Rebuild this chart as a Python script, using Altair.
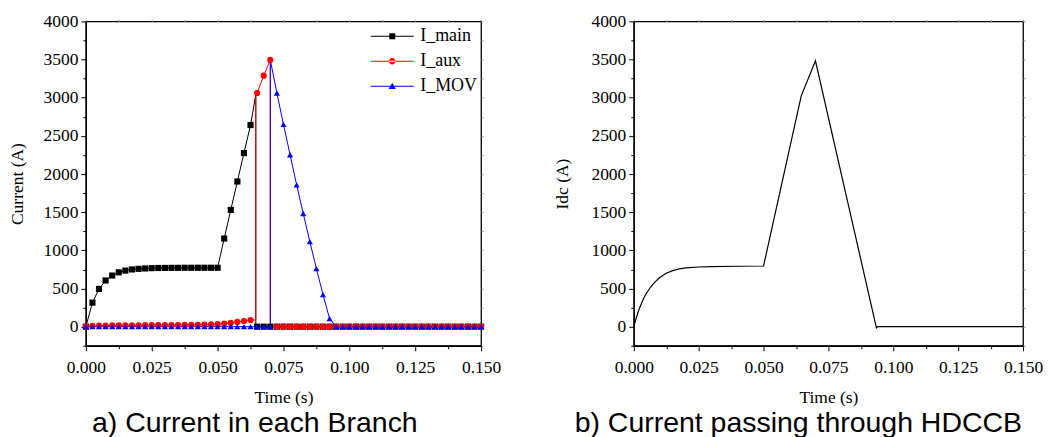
import altair as alt
import pandas as pd

# ---------------- data ----------------
SERIES = ["I_main", "I_aux", "I_MOV"]
COLORS = ["#000000", "#ff0000", "#0000ff"]

# sample grid of the simulation output (s)
T_GRID = [round(k * 0.0025, 4) for k in range(61)]

# I_main, samples k = 0..25 (t = 0 .. 0.0625), zero afterwards
MAIN_VALS = [0, 315, 495, 605, 670, 712, 735, 750, 758, 763, 767, 769, 770, 771, 771,
             772, 772, 772, 772, 772, 772, 1155, 1530, 1902, 2275, 2642]
MAIN_JUMP = [(0.0645, 3040), (0.0645, 0)]

# I_aux, samples k = 0..25, then peak k = 26..28, zero afterwards
AUX_VALS = [0, 10, 14, 16, 17, 18, 18, 19, 19, 20, 20, 21, 21, 22, 22, 23, 24, 25, 27,
            30, 33, 40, 49, 62, 75, 88]
AUX_JUMP = [(0.0645, 88), (0.0645, 3040)]
AUX_PEAK = [3062, 3289, 3495]
AUX_DROP = [(0.07, 0)]

# I_MOV, zero up to k = 28, jump, then samples k = 29..38
MOV_JUMP = [(0.07, 3495)]
MOV_VALS = [3062, 2650, 2253, 1859, 1483, 1115, 761, 420, 105, 0]

# Idc through the breaker (right panel)
IDC_T = [0, 0.001, 0.002, 0.003, 0.004, 0.005, 0.0065, 0.008, 0.01, 0.0125, 0.015,
         0.0175, 0.02, 0.025, 0.03, 0.04, 0.05, 0.0645, 0.07, 0.0935, 0.094, 0.15]
IDC_V = [0, 120, 225, 310, 385, 445, 520, 580, 645, 700, 735, 757, 770, 782, 788,
         792, 795, 3021, 3484, -15, 0, 0]

X_TICKS = [round(k * 0.0125, 4) for k in range(13)]
Y_TICKS = list(range(-250, 4001, 250))

# ---------------- build long table ----------------
rows = []


def add(series, t, v, marker):
    rows.append({"series": series, "t": t, "I": v, "marker": marker, "idx": len(rows)})


for k, v in enumerate(MAIN_VALS):
    add("I_main", T_GRID[k], v, True)
for t, v in MAIN_JUMP:
    add("I_main", t, v, False)
for k in range(26, 61):
    add("I_main", T_GRID[k], 0, True)

for k, v in enumerate(AUX_VALS):
    add("I_aux", T_GRID[k], v, True)
for t, v in AUX_JUMP:
    add("I_aux", t, v, False)
for i, v in enumerate(AUX_PEAK):
    add("I_aux", T_GRID[26 + i], v, True)
for t, v in AUX_DROP:
    add("I_aux", t, v, False)
for k in range(29, 61):
    add("I_aux", T_GRID[k], 0, True)

for k in range(0, 29):
    add("I_MOV", T_GRID[k], 0, True)
for t, v in MOV_JUMP:
    add("I_MOV", t, v, False)
for i, v in enumerate(MOV_VALS):
    add("I_MOV", T_GRID[29 + i], v, True)
for k in range(39, 61):
    add("I_MOV", T_GRID[k], 0, True)

df = pd.DataFrame(rows)
df2 = pd.DataFrame({"t": IDC_T, "I": IDC_V})

# ---------------- styling helpers ----------------
SERIF = "Liberation Serif"
SANS = "Liberation Sans"
FS = 17.5

X_MAJOR = "round(datum.value*1000) % 25 == 0"
Y_MAJOR = "datum.value % 500 == 0"


def x_axis():
    return alt.Axis(values=X_TICKS, title="Time (s)",
                    labelExpr=f"{X_MAJOR} ? format(datum.value, '.3f') : ''",
                    tickSize={"condition": {"test": X_MAJOR, "value": 5}, "value": 3},
                    labelPadding=8, titlePadding=12, grid=False, labelFlush=False,
                    labelOverlap=False)


def y_axis(title, tpad):
    return alt.Axis(values=Y_TICKS, title=title,
                    labelExpr=f"{Y_MAJOR} ? format(datum.value, 'd') : ''",
                    tickSize={"condition": {"test": Y_MAJOR, "value": 5}, "value": 3},
                    labelPadding=3, titlePadding=tpad, grid=False, labelFlush=False,
                    labelOverlap=False)


XS = alt.Scale(domain=[0, 0.15], nice=False, zero=False)
YS = alt.Scale(domain=[-250, 4000], nice=False, zero=False)


def mirror_layer(data):
    return alt.Chart(data).mark_point(opacity=0).encode(
        x=alt.X("t:Q", scale=XS,
                axis=alt.Axis(orient="top", values=X_TICKS, labels=False, title=None,
                              domain=False, tickSize=2, tickColor="#9a9a9a", grid=False)),
        y=alt.Y("I:Q", scale=YS,
                axis=alt.Axis(orient="right", values=Y_TICKS, labels=False, title=None,
                              domain=False, tickSize=2, tickColor="#9a9a9a", grid=False)),
    )


# legend symbols: thin bar (the line) with the marker in the middle (units of 3px)
LEG_PATHS = [
    "M-7.2,-0.17H7.2V0.17H-7.2ZM-1,-1H1V1H-1Z",
    "M-7.2,-0.17H7.2V0.17H-7.2ZM-1.1,0A1.1,1.1 0 1,0 1.1,0A1.1,1.1 0 1,0 -1.1,0Z",
    "M-7.2,-0.17H7.2V0.17H-7.2ZM0,-1.2L1.2,0.9L-1.2,0.9Z",
]
legend = alt.Legend(orient="none", legendX=298, legendY=6, title=None,
                    labelFont=SERIF, labelFontSize=18, labelColor="black",
                    symbolSize=36, labelOffset=19, symbolStrokeWidth=0,
                    rowPadding=7, padding=0, labelLimit=0)

lines = alt.Chart(df).mark_line(strokeWidth=1).encode(
    x=alt.X("t:Q", scale=XS, axis=x_axis()),
    y=alt.Y("I:Q", scale=YS, axis=y_axis("Current (A)", 16)),
    color=alt.Color("series:N", scale=alt.Scale(domain=SERIES, range=COLORS), legend=None),
    order=alt.Order("idx:Q"),
)

points = alt.Chart(df).transform_filter("datum.marker").mark_point(
    filled=True, size=38, opacity=1).encode(
    x=alt.X("t:Q", scale=XS, axis=None),
    y=alt.Y("I:Q", scale=YS, axis=None),
    color=alt.Color("series:N", scale=alt.Scale(domain=SERIES, range=COLORS), legend=None),
    shape=alt.Shape("series:N", scale=alt.Scale(domain=SERIES,
                                                range=["square", "circle", "triangle-up"]),
                    legend=None),
)

leg = alt.Chart(df).transform_filter("false").mark_point(filled=True, opacity=1).encode(
    color=alt.Color("series:N", scale=alt.Scale(domain=SERIES, range=COLORS), legend=legend),
    shape=alt.Shape("series:N", scale=alt.Scale(domain=SERIES, range=LEG_PATHS), legend=legend),
)

left = alt.layer(lines, points, leg, mirror_layer(df)).resolve_axis(
    x="independent", y="independent").resolve_scale(
    color="independent", shape="independent").properties(
    width=396, height=325,
    title=alt.TitleParams("a) Current in each Branch", orient="bottom", anchor="middle",
                          frame="bounds", font=SANS, fontSize=28.5, fontWeight="normal",
                          color="black", offset=3),
)

idc = alt.Chart(df2).mark_line(strokeWidth=1.2, color="black").encode(
    x=alt.X("t:Q", scale=XS, axis=x_axis()),
    y=alt.Y("I:Q", scale=YS, axis=y_axis("Idc (A)", 19)),
)
right = alt.layer(idc, mirror_layer(df2)).resolve_axis(
    x="independent", y="independent").properties(
    width=390, height=325,
    title=alt.TitleParams("b) Current passing through HDCCB", orient="bottom", anchor="middle",
                          frame="bounds", font=SANS, fontSize=28.5, fontWeight="normal",
                          color="black", offset=3),
)

chart = alt.hconcat(left, right, spacing=51, bounds="full").properties(
    padding={"left": 0, "top": 3, "right": 0, "bottom": 0}
).configure_view(stroke="black", strokeWidth=1.3).configure_axis(
    domainColor="black", domainWidth=1.3, tickColor="black", tickWidth=1,
    labelFont=SERIF, labelFontSize=FS, labelColor="black",
    titleFont=SERIF, titleFontSize=FS, titleFontWeight="normal", titleColor="black",
)

chart.save("out.html", embed_options={"renderer": "svg", "actions": False})
